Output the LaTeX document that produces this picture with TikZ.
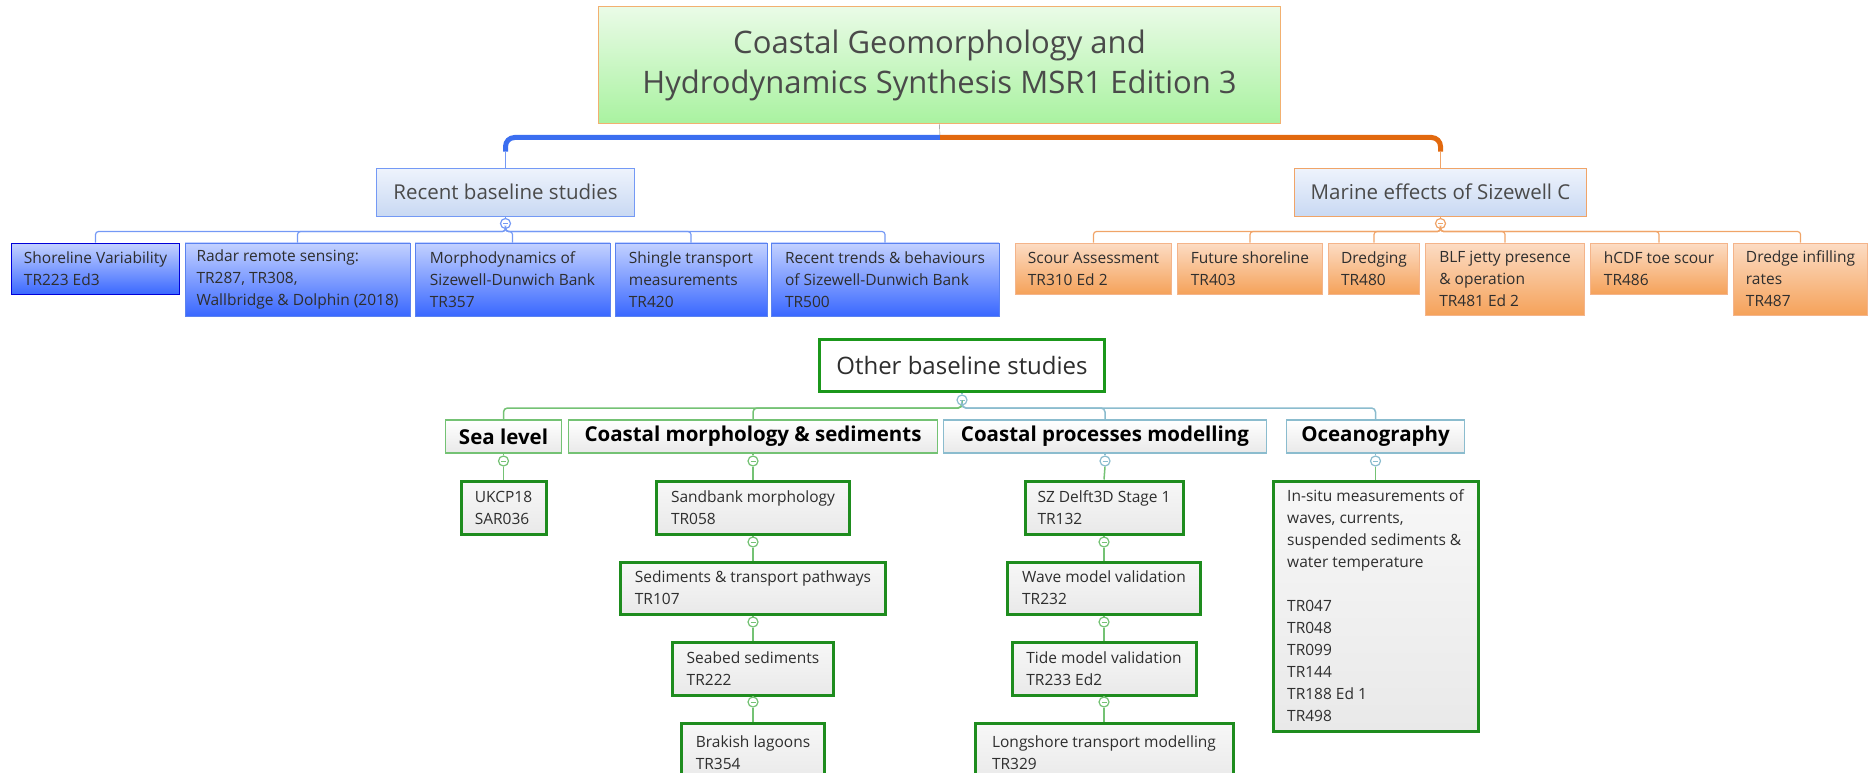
\documentclass[tikz,border=0pt]{standalone}
\usepackage{fontspec}
\setmainfont{Open Sans}

\definecolor{titletop}{HTML}{EAFBE7}
\definecolor{titlebot}{HTML}{A9F2A0}
\definecolor{titleline}{HTML}{F2B070}
\definecolor{branchtop}{HTML}{EEF3FC}
\definecolor{branchbot}{HTML}{C9D9F3}
\definecolor{bluebar}{HTML}{3B6EF0}
\definecolor{orangebar}{HTML}{E2690E}
\definecolor{blueln}{HTML}{7499F5}
\definecolor{orangeln}{HTML}{F0A468}
\definecolor{greenln}{HTML}{74C274}
\definecolor{grayln}{HTML}{8BBCCE}
\definecolor{bluetop}{HTML}{C4D2FF}
\definecolor{bluebot}{HTML}{3A68FF}
\definecolor{blueedge}{HTML}{5A82F0}
\definecolor{orangetop}{HTML}{FCDCC4}
\definecolor{orangebot}{HTML}{F5A25A}
\definecolor{orangeedge}{HTML}{F4B48A}
\definecolor{leafedge}{HTML}{1E8C1E}
\definecolor{leafbot}{HTML}{E9E9E9}
\definecolor{textdark}{HTML}{2E2E2E}
\definecolor{titletext}{HTML}{4A4A4A}

\begin{document}
\begin{tikzpicture}[x=1pt,y=-1pt,
    rootbox/.style={draw=titleline, top color=titletop, bottom color=titlebot, anchor=north,
        minimum width=682pt, minimum height=117pt, align=center, text=titletext,
        font=\fontsize{31}{40}\selectfont},
    branchbox/.style={draw=#1, line width=1.2pt, top color=branchtop, bottom color=branchbot,
        anchor=north, minimum height=48pt, text=titletext, font=\fontsize{20.5}{24}\selectfont},
    bluebox/.style={draw=blueedge, top color=bluetop, bottom color=bluebot, anchor=north,
        align=left, text=textdark, font=\fontsize{15.5}{22}\selectfont},
    orangebox/.style={draw=orangeedge, line width=1pt, top color=orangetop, bottom color=orangebot,
        anchor=north, align=left, text=textdark, font=\fontsize{15.5}{22}\selectfont},
    groupbox/.style={draw=leafedge!90!green, line width=3pt, fill=white, anchor=north,
        minimum width=285pt, minimum height=52pt, text=textdark, font=\fontsize{24}{28}\selectfont},
    catbox/.style={draw=#1, line width=1.8pt, top color=white, bottom color=leafbot, anchor=north,
        minimum height=33pt, font=\bfseries\fontsize{20.5}{24}\selectfont},
    leafbox/.style={draw=leafedge, line width=3pt, top color=white!97!black, bottom color=leafbot,
        anchor=north, align=left, text=textdark, font=\fontsize{15.5}{22}\selectfont},
    knob/.style={circle, draw=#1, fill=white, line width=1.2pt, minimum size=10pt, inner sep=0pt,
        path picture={\draw[#1, line width=1pt] ([xshift=-2.5pt]path picture bounding box.center)
        -- ([xshift=2.5pt]path picture bounding box.center);}}]

\useasboundingbox (0,0) rectangle (1868,773);

% Title
\node[rootbox] (root) at (939.5,6.5) {Coastal Geomorphology and\\Hydrodynamics Synthesis MSR1 Edition 3};
\coordinate (hub) at (940,137.5);

% Recent baseline studies
\node[branchbox=blueln, minimum width=258pt] (recent) at (505.5,167.5) {Recent baseline studies};
\node[knob=blueln] (recentk) at (505.5,223.5) {};
\node[bluebox, draw=blue!85!black, line width=1.5pt, minimum width=168pt, minimum height=51pt] (shore) at (95.5,242.5) {Shoreline Variability\\TR223 Ed3};
\node[bluebox, minimum width=225pt, minimum height=73pt] (radar) at (297.5,242.5) {Radar remote sensing:\\TR287, TR308,\\Wallbridge \& Dolphin (2018)};
\node[bluebox, minimum width=195pt, minimum height=73pt] (morpho) at (512.5,242.5) {Morphodynamics of\\Sizewell-Dunwich Bank\\TR357};
\node[bluebox, minimum width=152pt, minimum height=73pt] (shingle) at (691,242.5) {Shingle transport\\measurements\\TR420};
\node[bluebox, minimum width=228pt, minimum height=73pt] (trends) at (885,242.5) {Recent trends \& behaviours\\of Sizewell-Dunwich Bank\\TR500};

% Marine effects of Sizewell C
\node[branchbox=orangeln, minimum width=292pt] (marine) at (1440.5,167.5) {Marine effects of Sizewell C};
\node[knob=orangeln] (marinek) at (1440.5,223.5) {};
\node[orangebox, minimum width=156pt, minimum height=51pt] (scour) at (1093.5,242.5) {Scour Assessment\\TR310 Ed 2};
\node[orangebox, minimum width=145pt, minimum height=51pt] (future) at (1250,242.5) {Future shoreline\\TR403};
\node[orangebox, minimum width=91pt, minimum height=51pt] (dredging) at (1374,242.5) {Dredging\\TR480};
\node[orangebox, minimum width=159pt, minimum height=72pt] (jetty) at (1505,242.5) {BLF jetty presence\\\& operation\\TR481 Ed 2};
\node[orangebox, minimum width=137pt, minimum height=51pt] (toe) at (1659,242.5) {hCDF toe scour\\TR486};
\node[orangebox, minimum width=134pt, minimum height=72pt] (infill) at (1800.5,242.5) {Dredge infilling\\rates\\TR487};

% Other baseline studies
\node[groupbox] (other) at (962,337.5) {Other baseline studies};
\node[knob=grayln] (otherk) at (962,400) {};
\node[catbox=greenln, minimum width=116pt] (sea) at (503.5,419) {Sea level};
\node[catbox=greenln, minimum width=369pt] (coast) at (753,419) {Coastal morphology \& sediments};
\node[catbox=grayln, minimum width=323pt] (proc) at (1105,419) {Coastal processes modelling};
\node[catbox=grayln, minimum width=178pt] (ocean) at (1375.5,419) {Oceanography};
\node[knob=greenln] (seak) at (503.5,461) {};
\node[knob=greenln] (coastk) at (753,461) {};
\node[knob=grayln] (prock) at (1105,461) {};
\node[knob=grayln] (oceank) at (1375.5,461) {};

% Leaves
\node[leafbox, minimum width=85pt, minimum height=53pt] (ukcp) at (503.5,479.5) {UKCP18\\SAR036};
\node[leafbox, minimum width=193pt, minimum height=53pt] (sandbank) at (753,479.5) {Sandbank morphology\\TR058};
\node[leafbox, minimum width=265pt, minimum height=52pt] (pathways) at (753,560.5) {Sediments \& transport pathways\\TR107};
\node[leafbox, minimum width=161pt, minimum height=53pt] (seabed) at (753,640.5) {Seabed sediments\\TR222};
\node[leafbox, minimum width=143pt, minimum height=60pt] (lagoons) at (753,721.5) {Brakish lagoons\\TR354};
\node[leafbox, minimum width=158pt, minimum height=53pt] (delft) at (1104,479.5) {SZ Delft3D Stage 1\\TR132};
\node[leafbox, minimum width=193pt, minimum height=52pt] (wave) at (1104,560.5) {Wave model validation\\TR232};
\node[leafbox, minimum width=184pt, minimum height=53pt] (tide) at (1104,640.5) {Tide model validation\\TR233 Ed2};
\node[leafbox, minimum width=258pt, minimum height=60pt] (longshore) at (1104,721.5) {Longshore transport modelling\\TR329};
\node[leafbox, minimum width=205pt, minimum height=250pt] (insitu) at (1375.5,479.5) {In-situ measurements of\\waves, currents,\\suspended sediments \&\\water temperature\\[22pt]TR047\\TR048\\TR099\\TR144\\TR188 Ed 1\\TR498};
\node[knob=greenln] (sandbankk) at (753,542) {};
\node[knob=greenln] (pathwaysk) at (753,622) {};
\node[knob=greenln] (seabedk) at (753,702) {};
\node[knob=greenln] (delftk) at (1104,542) {};
\node[knob=greenln] (wavek) at (1104,622) {};
\node[knob=greenln] (tidek) at (1104,702) {};

% Main branches
\draw[gray] (root.south) -- (hub);
\draw[line width=5pt, bluebar, rounded corners=9pt] (hub) -| ([yshift=16pt]recent.north);
\draw[line width=5pt, orangebar, rounded corners=9pt] (hub) -| ([yshift=16pt]marine.north);
\draw[blueln, line width=1.2pt] ([yshift=16pt]recent.north) -- (recent.north);
\draw[orangeln, line width=1.2pt] ([yshift=16pt]marine.north) -- (marine.north);

% Recent baseline connectors
\draw[blueln, line width=1.2pt] (recent.south) -- (recentk.north);
\foreach \n in {shore,radar,morpho,shingle,trends}
    \draw[blueln, line width=1.2pt, rounded corners=3pt] (recentk.south) |- ([yshift=11pt]\n.north) -- (\n.north);

% Marine effects connectors
\draw[orangeln, line width=1.2pt] (marine.south) -- (marinek.north);
\foreach \n in {scour,future,dredging,jetty,toe,infill}
    \draw[orangeln, line width=1.2pt, rounded corners=3pt] (marinek.south) |- ([yshift=11pt]\n.north) -- (\n.north);

% Other baseline connectors
\draw[grayln, line width=1.2pt] (other.south) -- (otherk.north);
\draw[greenln, line width=1.5pt, rounded corners=4pt] (otherk.south) |- ([yshift=11pt]sea.north) -- (sea.north);
\draw[greenln, line width=1.5pt, rounded corners=4pt] (otherk.south) |- ([yshift=11pt]coast.north) -- (coast.north);
\draw[grayln, line width=1.5pt, rounded corners=4pt] (otherk.south) |- ([yshift=11pt]proc.north) -- (proc.north);
\draw[grayln, line width=1.5pt, rounded corners=4pt] (otherk.south) |- ([yshift=11pt]ocean.north) -- (ocean.north);

% Category columns
\draw[greenln, line width=1.5pt] (sea.south) -- (seak.north) (seak.south) -- (ukcp.north);
\draw[greenln, line width=1.5pt] (coast.south) -- (coastk.north) (coastk.south) -- (sandbank.north);
\draw[grayln, line width=1.5pt] (proc.south) -- (prock.north);
\draw[greenln, line width=1.5pt] (prock.south) -- (delft.north);
\draw[grayln, line width=1.5pt] (ocean.south) -- (oceank.north);
\draw[greenln, line width=1.5pt] (oceank.south) -- (insitu.north);
\draw[greenln, line width=1.5pt] (sandbank.south) -- (sandbankk.north) (sandbankk.south) -- (pathways.north);
\draw[greenln, line width=1.5pt] (pathways.south) -- (pathwaysk.north) (pathwaysk.south) -- (seabed.north);
\draw[greenln, line width=1.5pt] (seabed.south) -- (seabedk.north) (seabedk.south) -- (lagoons.north);
\draw[greenln, line width=1.5pt] (delft.south) -- (delftk.north) (delftk.south) -- (wave.north);
\draw[greenln, line width=1.5pt] (wave.south) -- (wavek.north) (wavek.south) -- (tide.north);
\draw[greenln, line width=1.5pt] (tide.south) -- (tidek.north) (tidek.south) -- (longshore.north);

\end{tikzpicture}
\end{document}
